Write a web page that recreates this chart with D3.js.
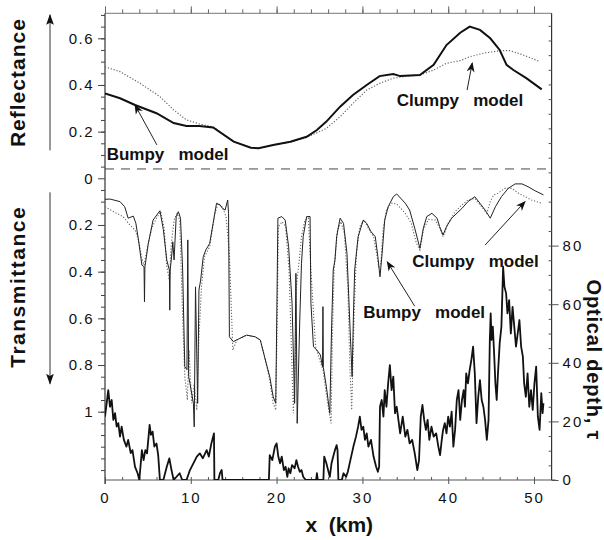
<!DOCTYPE html>
<html>
<head>
<meta charset="utf-8">
<script src="https://cdn.jsdelivr.net/npm/d3@7"></script>
<style>
  html, body { margin: 0; padding: 0; background: #fff; }
  svg { display: block; }
  text { font-family: "Liberation Sans", Arial, Helvetica, sans-serif; }
</style>
</head>
<body>
<svg id="chart" width="604" height="540"></svg>
<script>
// ---------------- data ----------------
// Reflectance, x (km) vs R
const reflectanceBumpy = [[0,0.364],[1.75,0.343],[3.5,0.314],[6.0,0.279],[8.0,0.237],[9.5,0.224],[11,0.224],[12.6,0.218],[15,0.157],[17,0.131],[17.9,0.129],[19.6,0.143],[21.6,0.157],[23.5,0.178],[24.7,0.207],[25.8,0.243],[27.4,0.307],[28.9,0.357],[30.5,0.40],[32,0.438],[33.6,0.447],[34.4,0.438],[36.7,0.443],[38.3,0.486],[39.8,0.571],[41.4,0.624],[42.5,0.650],[43.7,0.636],[44.9,0.60],[46,0.55],[46.8,0.486],[47.6,0.464],[49.1,0.429],[50.9,0.381]];
const reflectanceClumpy = [[0,0.478],[1.75,0.457],[4.1,0.407],[6.4,0.350],[8,0.293],[9.5,0.25],[11,0.233],[12.6,0.22],[15,0.157],[17,0.131],[17.9,0.129],[19.6,0.143],[21.6,0.155],[23.5,0.175],[24.7,0.195],[25.8,0.214],[27.4,0.264],[28.9,0.321],[30.5,0.378],[32,0.407],[33.6,0.429],[35,0.437],[36.7,0.443],[38.3,0.464],[39.8,0.493],[41.4,0.504],[42.5,0.521],[44.1,0.536],[46,0.547],[47.2,0.547],[48.7,0.529],[50.7,0.50]];

// Transmittance, x (km) vs T (axis increases downward)
const transmittanceBumpy = [[0,0.09],[0.6,0.089],[1.75,0.10],[2.3,0.122],[2.7,0.171],[3.3,0.162],[3.6,0.193],[3.9,0.264],[4.3,0.372],[4.55,0.379],[4.6,0.529],[4.65,0.38],[5.05,0.279],[5.6,0.179],[6.4,0.139],[6.8,0.22],[7.2,0.35],[7.5,0.393],[7.55,0.565],[7.6,0.393],[7.8,0.32],[7.9,0.272],[8.05,0.35],[8.3,0.164],[8.55,0.143],[8.8,0.171],[9.05,0.393],[9.3,0.807],[9.55,0.82],[9.65,0.264],[9.75,0.85],[9.9,0.878],[10.3,0.964],[10.4,1.065],[10.55,0.465],[10.8,0.964],[10.95,0.479],[11.15,0.436],[11.45,0.336],[11.75,0.307],[12.2,0.279],[12.6,0.193],[13,0.107],[13.4,0.114],[13.7,0.129],[14,0.136],[14.3,0.093],[14.4,0.15],[14.5,0.679],[14.95,0.70],[15.7,0.686],[16.5,0.672],[17.5,0.679],[18.1,0.693],[18.6,0.765],[19.2,0.85],[19.6,0.936],[19.9,0.964],[20.05,0.5],[20.15,0.171],[20.6,0.164],[21,0.179],[21.4,0.293],[21.8,0.535],[22.1,0.964],[22.25,0.407],[22.4,1.05],[22.7,0.607],[22.9,0.364],[23.1,0.25],[23.5,0.164],[23.9,0.164],[24,0.536],[24.3,0.722],[24.7,0.736],[25.1,0.757],[25.35,0.807],[25.4,0.55],[25.45,0.81],[25.8,0.893],[26.2,1.007],[26.4,0.65],[26.6,0.393],[26.8,0.35],[27,0.25],[27.4,0.171],[27.8,0.193],[28.2,0.321],[28.6,0.679],[28.8,0.85],[28.95,0.593],[29.1,0.393],[29.5,0.25],[30.1,0.179],[30.5,0.193],[31,0.229],[31.5,0.25],[31.8,0.336],[32.05,0.422],[32.3,0.321],[32.6,0.179],[33,0.122],[33.6,0.079],[34,0.067],[35,0.107],[35.5,0.136],[36.1,0.214],[36.7,0.30],[37.1,0.214],[37.5,0.164],[38.1,0.15],[38.7,0.171],[39,0.207],[39.4,0.243],[39.8,0.207],[40.4,0.171],[41.6,0.129],[42.3,0.10],[43.1,0.079],[43.7,0.107],[44.3,0.136],[44.9,0.171],[45.5,0.122],[46.2,0.079],[47,0.043],[47.8,0.024],[48.6,0.024],[49.3,0.036],[50.1,0.053],[51.1,0.071]];
const transmittanceClumpy = [[0,0.122],[1,0.143],[2.1,0.164],[2.9,0.20],[3.5,0.221],[3.9,0.264],[4.3,0.343],[4.55,0.372],[4.95,0.293],[5.45,0.214],[6,0.171],[6.5,0.143],[6.9,0.214],[7.2,0.379],[7.5,0.436],[7.7,0.293],[8.05,0.179],[8.4,0.15],[8.7,0.179],[9,0.536],[9.3,0.85],[9.6,0.95],[9.8,0.736],[10.1,0.964],[10.4,0.879],[10.7,0.993],[10.95,0.679],[11.25,0.465],[11.6,0.336],[12.2,0.293],[12.8,0.15],[13.2,0.107],[13.7,0.124],[14.1,0.164],[14.5,0.321],[14.7,0.536],[14.9,0.736],[15.35,0.693],[16.5,0.672],[17.5,0.679],[18.1,0.693],[18.6,0.765],[19.2,0.864],[19.6,0.964],[19.9,0.993],[20.1,0.536],[20.2,0.207],[20.65,0.186],[21.05,0.207],[21.45,0.393],[21.8,0.82],[21.95,1.007],[22.15,0.82],[22.3,0.465],[22.6,0.364],[22.9,0.25],[23.3,0.179],[23.7,0.171],[24,0.393],[24.3,0.579],[24.55,0.722],[24.9,0.765],[25.4,0.82],[25.95,0.964],[26.35,1.05],[26.5,0.679],[26.7,0.393],[27.1,0.221],[27.5,0.186],[27.9,0.236],[28.3,0.465],[28.55,0.82],[28.75,0.993],[29.05,0.565],[29.3,0.321],[29.7,0.207],[30.2,0.179],[30.7,0.214],[31.3,0.25],[31.65,0.321],[31.9,0.379],[32.15,0.364],[32.4,0.221],[32.8,0.136],[33.4,0.107],[34,0.11],[35,0.15],[35.7,0.193],[36.3,0.279],[36.7,0.307],[37.1,0.221],[37.7,0.176],[38.5,0.179],[39,0.214],[39.4,0.25],[40,0.193],[40.8,0.143],[41.6,0.114],[42.3,0.093],[43.1,0.086],[43.9,0.122],[44.5,0.15],[44.9,0.10],[45.3,0.071],[45.8,0.064],[46.6,0.043],[47.4,0.043],[48.2,0.064],[49,0.079],[49.7,0.093],[50.9,0.107]];

// Optical depth, x (km) vs tau
const opticalDepth = [[0,21.6],[0.38,30.7],[0.58,25],[0.78,27.3],[0.97,20.5],[1.17,22.8],[1.36,18.2],[1.55,19.4],[1.75,14.8],[1.94,18.2],[2.2,13.7],[2.5,11.4],[2.7,13.7],[3.0,9.2],[3.2,10.2],[3.5,4.5],[3.8,2.3],[4.0,0],[4.3,10.2],[4.5,6.8],[4.7,10.2],[4.9,9.1],[5.2,18.8],[5.35,15.4],[5.55,16.5],[5.75,11.4],[6.0,12.5],[6.2,8.5],[6.4,0],[6.8,0],[7.2,4.5],[7.5,7.4],[7.75,3.4],[8.0,0],[8.7,2.3],[9.0,0],[9.5,0],[9.9,3.4],[10.3,5.7],[10.7,8],[11.05,9.1],[11.4,7.4],[11.85,10.2],[12.1,8],[12.4,12.5],[12.7,15.9],[12.75,0],[13.2,0],[13.4,2.3],[13.6,3.4],[13.7,0],[19.1,0],[19.2,8.5],[19.5,6.8],[19.8,11.4],[20.0,12.5],[20.2,8],[20.4,5.7],[20.6,8],[20.85,3.4],[21.05,4.5],[21.25,1.1],[21.4,4],[21.6,2.3],[21.8,5.1],[22.1,4],[22.3,6.8],[22.5,4.5],[22.7,2.8],[22.9,3.4],[23.1,1.1],[23.4,0],[24.6,0],[24.7,2.3],[24.8,0],[25.45,0],[25.55,8],[25.8,5.7],[26.0,3.4],[26.2,1.1],[26.4,5.7],[26.6,8],[26.8,10.2],[27.0,11.9],[27.1,10.2],[27.2,0],[27.6,0],[27.8,2.3],[28.1,1.1],[28.3,2.8],[28.6,6.8],[28.95,11.4],[29.25,14.8],[29.5,18.2],[29.7,21.6],[29.9,17.1],[30.1,18.2],[30.3,13.7],[30.5,15.9],[30.7,11.4],[31.0,13.7],[31.3,8],[31.6,4.5],[31.8,2.8],[31.95,4.5],[32.05,25],[32.25,27.3],[32.45,21.6],[32.6,30.7],[32.8,25],[33.0,33],[33.2,39.2],[33.4,30.7],[33.6,35.3],[33.8,22.8],[34.0,25],[34.4,15.9],[34.7,21.6],[35.0,14.8],[35.25,17.1],[35.5,12.5],[35.8,13.7],[36.1,9.1],[36.4,3.4],[36.6,6.8],[36.8,21.6],[37.0,25.6],[37.2,20.5],[37.4,17.1],[37.6,20.5],[37.8,13.7],[38.05,18.2],[38.3,14.8],[38.6,15.9],[38.85,11.4],[39.05,8.5],[39.25,13.7],[39.4,17.1],[39.6,19.4],[39.8,15.9],[40.0,21.6],[40.2,18.2],[40.4,23.3],[40.6,11.4],[40.8,17.1],[41.0,27.3],[41.2,30.7],[41.4,20.5],[41.6,27.3],[41.8,30.7],[41.95,25],[42.1,36.4],[42.3,33],[42.5,37.5],[42.7,41],[42.9,45.5],[43.1,36.4],[43.3,19.4],[43.5,28.4],[43.7,34.1],[43.9,27.3],[44.1,25],[44.3,20.5],[44.5,13.7],[44.7,20.5],[44.85,47.8],[44.95,56.9],[45.05,47.8],[45.2,52.3],[45.35,43.2],[45.5,33],[45.65,27.3],[45.8,36.4],[46.0,46.7],[46.2,52.3],[46.4,72.8],[46.55,66],[46.75,63.7],[46.9,56.9],[47.1,61.4],[47.3,50],[47.5,59.1],[47.7,52.3],[47.9,45.5],[48.1,50],[48.3,54.6],[48.5,45.5],[48.7,42.1],[48.85,33],[49.05,28.4],[49.25,36.4],[49.45,25],[49.65,30.7],[49.85,23.9],[50.05,33],[50.25,38.7],[50.45,21.6],[50.65,17.1],[50.85,29.6],[51.0,22.8],[51.1,26.2]];

// tick labels
const xTicks = [0, 10, 20, 30, 40, 50];
const reflTicks = [0.2, 0.4, 0.6];
const transTicks = [0, 0.2, 0.4, 0.6, 0.8, 1];
const transTickLabels = ["0", "0.2", "0.4", "0.6", "0.8", "1"];
const tauTicks = [0, 20, 40, 60, 80];
const separatorR = 0.04;   // dashed separator between the panels (reflectance units)

// annotations: label, text anchor point, arrow tail and tip (data units)
const reflAnnotations = [
  { text: "Bumpy   model",  tx: 0.2,  ty: 0.078, tail: [6.05, 0.143], tip: [3.5, 0.314] },
  { text: "Clumpy   model", tx: 34.0, ty: 0.310, tail: [42.2, 0.378], tip: [42.8, 0.494] }
];
const transAnnotations = [
  { text: "Clumpy   model", tx: 35.8, ty: 0.379, tail: [44.3, 0.286], tip: [48.95, 0.100] },
  { text: "Bumpy   model",  tx: 30.1, ty: 0.600, tail: [36.1, 0.548], tip: [32.9, 0.358] }
];

// ---------------- scales ----------------
const svg = d3.select("#chart");
const W = 604, H = 540;
const frameTop = 13.3, frameBottom = 480;

const x = d3.scaleLinear().domain([0, 52.05]).range([105, 551.6]);
const yR = d3.scaleLinear().domain([0, 0.6]).range([178.3, 38.3]);
const yT = d3.scaleLinear().domain([0, 1]).range([178.3, 411.7]);
const yTau = d3.scaleLinear().domain([0, 80]).range([480, 245.6]);

const xL = x.range()[0], xR = x.range()[1];

svg.append("rect").attr("width", W).attr("height", H).attr("fill", "#fff");

// defs: arrow heads
const defs = svg.append("defs");
defs.append("marker").attr("id", "ah").attr("viewBox", "0 0 10 10")
  .attr("refX", 9).attr("refY", 5).attr("markerWidth", 10).attr("markerHeight", 10)
  .attr("markerUnits", "userSpaceOnUse").attr("orient", "auto")
  .append("path").attr("d", "M0,1 L10,5 L0,9 L3,5 Z").attr("fill", "#111");
defs.append("marker").attr("id", "ahBig").attr("viewBox", "0 0 10 10")
  .attr("refX", 9).attr("refY", 5).attr("markerWidth", 11).attr("markerHeight", 11)
  .attr("markerUnits", "userSpaceOnUse").attr("orient", "auto")
  .append("path").attr("d", "M0,1.5 L10,5 L0,8.5 L2,5 Z").attr("fill", "#111");

const axisColor = "#333";
const fontTick = "15px";

// ---------------- frame ----------------
svg.append("line").attr("x1", xL).attr("x2", xR).attr("y1", frameTop).attr("y2", frameTop)
  .attr("stroke", "#777").attr("stroke-width", 1);
svg.append("line").attr("x1", xL).attr("x2", xR + 4).attr("y1", frameBottom).attr("y2", frameBottom)
  .attr("stroke", "#555").attr("stroke-width", 1.2);
svg.append("line").attr("x1", xL).attr("x2", xL).attr("y1", frameTop).attr("y2", frameBottom + 4)
  .attr("stroke", axisColor).attr("stroke-width", 1.2);
svg.append("line").attr("x1", xR).attr("x2", xR).attr("y1", frameTop).attr("y2", frameBottom)
  .attr("stroke", axisColor).attr("stroke-width", 1.2);

// top axis ticks (every 2 km, longer every 10)
const topMinor = d3.range(0, 52, 2);
const gTop = svg.append("g").attr("transform", `translate(0,${frameTop})`);
gTop.call(d3.axisTop(x).tickValues(topMinor).tickSize(4).tickFormat(""));
gTop.append("g").call(d3.axisTop(x).tickValues(xTicks).tickSize(7).tickFormat(""));
gTop.selectAll(".domain").remove();
gTop.selectAll("line").attr("stroke", "#666");

// bottom axis
const gBot = svg.append("g").attr("transform", `translate(0,${frameBottom})`);
gBot.call(d3.axisTop(x).tickValues(topMinor).tickSize(3).tickFormat(""));
gBot.append("g").call(d3.axisBottom(x).tickValues(xTicks).tickSize(4).tickPadding(8).tickFormat(d3.format("d")));
gBot.selectAll(".domain").remove();
gBot.selectAll("line").attr("stroke", "#555");
gBot.selectAll("text").attr("font-size", fontTick).attr("fill", "#111")
  .attr("letter-spacing", "2px").style("font-family", "'Liberation Sans', Arial, sans-serif");

// left axis: reflectance (upper) and transmittance (lower)
const gLeftR = svg.append("g").attr("transform", `translate(${xL},0)`);
gLeftR.call(d3.axisLeft(yR).tickValues(d3.range(0.05, 0.71, 0.05)).tickSize(4).tickFormat(""));
gLeftR.append("g").call(d3.axisLeft(yR).tickValues(reflTicks).tickSize(7).tickPadding(4).tickFormat(d3.format(".1f")));
const gLeftT = svg.append("g").attr("transform", `translate(${xL},0)`);
gLeftT.call(d3.axisLeft(yT).tickValues(d3.range(0.05, 1.29, 0.05)).tickSize(4).tickFormat(""));
gLeftT.append("g").call(d3.axisLeft(yT).tickValues(transTicks).tickSize(7).tickPadding(4)
  .tickFormat((d, i) => transTickLabels[i]));
[gLeftR, gLeftT].forEach(g => {
  g.selectAll(".domain").remove();
  g.selectAll("line").attr("stroke", "#444");
  g.selectAll("text").attr("font-size", fontTick).attr("fill", "#111").attr("letter-spacing", "1.5px")
    .style("font-family", "'Liberation Sans', Arial, sans-serif");
});

// right axis: optical depth
const gRight = svg.append("g").attr("transform", `translate(${xR},0)`);
gRight.call(d3.axisLeft(yTau).tickValues(d3.range(5, 160, 5)).tickSize(3).tickFormat(""));
gRight.append("g").call(d3.axisRight(yTau).tickValues(tauTicks).tickSize(7).tickPadding(4).tickFormat(d3.format("d")));
gRight.selectAll(".domain").remove();
gRight.selectAll("line").attr("stroke", "#555");
gRight.selectAll("text").attr("font-size", fontTick).attr("fill", "#111").attr("letter-spacing", "2px")
  .style("font-family", "'Liberation Sans', Arial, sans-serif");

// dashed separator
svg.append("line").attr("x1", xL).attr("x2", xR).attr("y1", yR(separatorR)).attr("y2", yR(separatorR))
  .attr("stroke", "#444").attr("stroke-width", 1).attr("stroke-dasharray", "9,7");

// ---------------- series ----------------
const clip = defs.append("clipPath").attr("id", "plotClip");
clip.append("rect").attr("x", xL).attr("y", frameTop).attr("width", xR - xL).attr("height", frameBottom - frameTop);
const plot = svg.append("g").attr("clip-path", "url(#plotClip)");

const lineR = d3.line().x(d => x(d[0])).y(d => yR(d[1]));
const lineT = d3.line().x(d => x(d[0])).y(d => yT(d[1]));
const lineTau = d3.line().x(d => x(d[0])).y(d => yTau(d[1]));

plot.append("path").datum(opticalDepth).attr("d", lineTau)
  .attr("fill", "none").attr("stroke", "#111").attr("stroke-width", 1.8).attr("stroke-linejoin", "round");

plot.append("path").datum(transmittanceClumpy).attr("d", lineT)
  .attr("fill", "none").attr("stroke", "#666").attr("stroke-width", 1.1).attr("stroke-dasharray", "1.2,1.8");
plot.append("path").datum(transmittanceBumpy).attr("d", lineT)
  .attr("fill", "none").attr("stroke", "#222").attr("stroke-width", 1);

plot.append("path").datum(reflectanceClumpy).attr("d", lineR)
  .attr("fill", "none").attr("stroke", "#666").attr("stroke-width", 1.2).attr("stroke-dasharray", "1.2,1.8");
plot.append("path").datum(reflectanceBumpy).attr("d", lineR)
  .attr("fill", "none").attr("stroke", "#111").attr("stroke-width", 2);

// ---------------- annotations ----------------
function annotate(list, ys) {
  list.forEach(a => {
    svg.append("text").attr("x", x(a.tx)).attr("y", ys(a.ty))
      .attr("font-size", "17px").attr("font-weight", "bold").attr("fill", "#111")
      .style("white-space", "pre").text(a.text);
    svg.append("line").attr("x1", x(a.tail[0])).attr("y1", ys(a.tail[1]))
      .attr("x2", x(a.tip[0])).attr("y2", ys(a.tip[1]))
      .attr("stroke", "#222").attr("stroke-width", 1).attr("marker-end", "url(#ah)");
  });
}
annotate(reflAnnotations, yR);
annotate(transAnnotations, yT);

// ---------------- axis titles ----------------
svg.append("text").attr("transform", `translate(25,${yR(0.41)}) rotate(-90)`)
  .attr("text-anchor", "middle").attr("font-size", "21px").attr("font-weight", "bold")
  .attr("letter-spacing", "1px").attr("fill", "#111").text("Reflectance");
svg.append("line").attr("x1", 50).attr("x2", 50).attr("y1", yR(0.12)).attr("y2", yR(0.70))
  .attr("stroke", "#333").attr("stroke-width", 1).attr("marker-end", "url(#ahBig)");

svg.append("text").attr("transform", `translate(25,${yT(0.465)}) rotate(-90)`)
  .attr("text-anchor", "middle").attr("font-size", "21px").attr("font-weight", "bold")
  .attr("letter-spacing", "1.5px").attr("fill", "#111").text("Transmittance");
svg.append("line").attr("x1", 50).attr("x2", 50).attr("y1", yT(0.06)).attr("y2", yT(0.88))
  .attr("stroke", "#333").attr("stroke-width", 1).attr("marker-end", "url(#ahBig)");

svg.append("text").attr("transform", `translate(587,${yTau(41)}) rotate(90)`)
  .attr("text-anchor", "middle").attr("font-size", "20px").attr("font-weight", "bold")
  .attr("letter-spacing", "0.8px").attr("fill", "#111").text("Optical depth, τ");

svg.append("text").attr("x", x(27.3)).attr("y", 532)
  .attr("text-anchor", "middle").attr("font-size", "21px").attr("font-weight", "bold")
  .attr("fill", "#111").style("white-space", "pre").text("x  (km)");
</script>
</body>
</html>
